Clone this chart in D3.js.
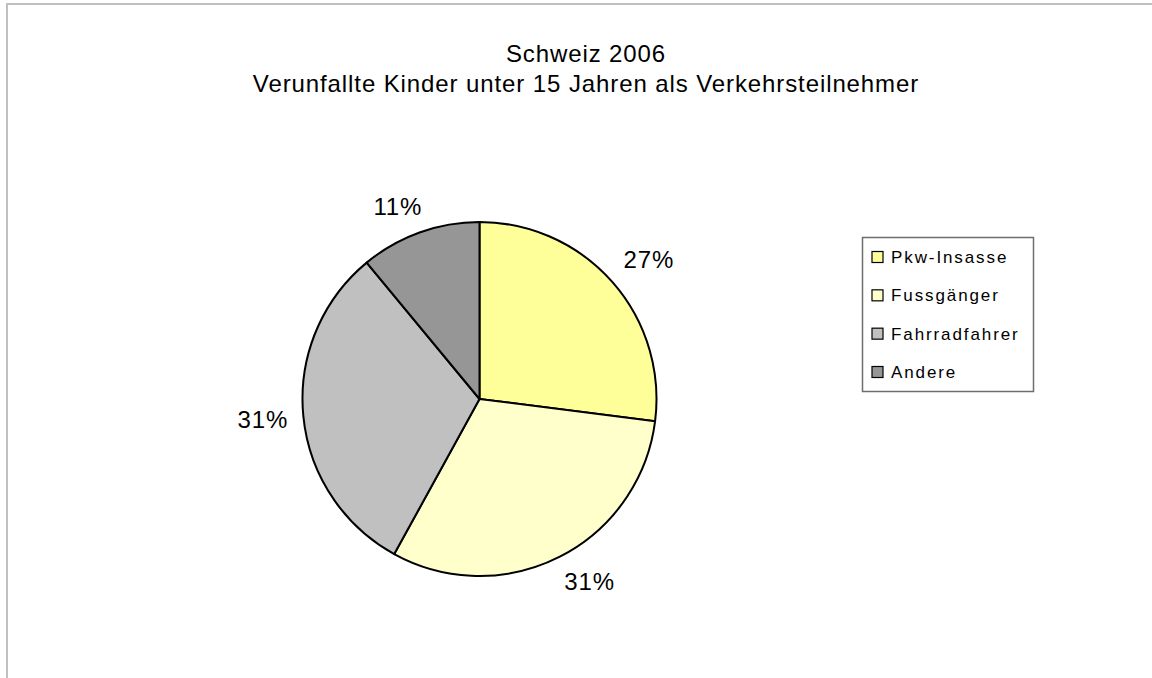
<!DOCTYPE html>
<html>
<head>
<meta charset="utf-8">
<script src="https://cdn.jsdelivr.net/npm/d3@7"></script>
<style>
  body { margin: 0; background: #fff; }
  svg { display: block; font-family: 'Liberation Sans', Arial, sans-serif; }
</style>
</head>
<body>
<svg width="1152" height="678"></svg>
<script>
const categories = ['Pkw-Insasse', 'Fussgänger', 'Fahrradfahrer', 'Andere']
const anteile = [27, 31, 31, 11]
const farben = ['#FFFF99', '#FFFFCC', '#C0C0C0', '#969696']
const titel = ['Schweiz 2006', 'Verunfallte Kinder unter 15 Jahren als Verkehrsteilnehmer']

const dados = categories.map((c, i) => ({ name: c, value: anteile[i], color: farben[i] }))

const svg = d3.select('svg')

/*rahmen*/
svg.append('path')
  .attr('d', 'M7,678 V4 H1152')
  .attr('fill', 'none')
  .attr('stroke', '#c0c0c0')
  .attr('stroke-width', 2)

/*titel*/
svg.append('g')
  .selectAll('text')
  .data(titel)
  .enter()
  .append('text')
  .attr('x', 586)
  .attr('y', (d, i) => 61.5 + i * 30.5)
  .attr('text-anchor', 'middle')
  .attr('font-size', 24)
  .attr('letter-spacing', 0.9)
  .attr('fill', '#000')
  .text(d => d)

const cx = 479.5, cy = 399, r = 177

const pie = d3.pie()
  .sort(null)
  .value(d => d.value)

const arc = d3.arc().innerRadius(0).outerRadius(r)

const chart = svg.append('g')
  .attr('transform', `translate(${cx}, ${cy})`)

const slices = pie(dados)

chart.selectAll('path')
  .data(slices)
  .enter()
  .append('path')
  .attr('d', arc)
  .attr('fill', d => d.data.color)
  .attr('stroke', '#000')
  .attr('stroke-width', 2)
  .attr('stroke-linejoin', 'round')

/*werte ausserhalb, box-ecke am radius*/
const labelR = 192
const clamp = v => Math.max(-1, Math.min(1, v))
chart.selectAll('.value')
  .data(slices)
  .enter()
  .append('text')
  .attr('class', 'value')
  .attr('text-anchor', 'middle')
  .attr('dy', '0.35em')
  .attr('font-size', 24)
  .attr('letter-spacing', 0.9)
  .text(d => `${d.data.value}%`)
  .each(function (d) {
    const a = (d.startAngle + d.endAngle) / 2
    const w = this.getComputedTextLength(), h = 24
    const x = labelR * Math.sin(a) + w / 2 * clamp(Math.sin(a) * 2)
    const y = -labelR * Math.cos(a) - h / 2 * clamp(Math.cos(a) * 2)
    d3.select(this).attr('x', x).attr('y', y)
  })

/*legende*/
const legend = svg.append('g')
  .attr('transform', 'translate(862, 237)')

legend.append('rect')
  .attr('x', 0.5)
  .attr('y', 0.5)
  .attr('width', 171)
  .attr('height', 154)
  .attr('fill', '#fff')
  .attr('stroke', '#6e6e6e')
  .attr('stroke-width', 1.5)

const rowScale = d3.scalePoint()
  .domain(categories)
  .range([20, 135])

const items = legend.selectAll('.item')
  .data(dados)
  .enter()
  .append('g')
  .attr('transform', d => `translate(10, ${rowScale(d.name)})`)

items.append('rect')
  .attr('x', 0)
  .attr('y', -5.5)
  .attr('width', 11)
  .attr('height', 11)
  .attr('fill', d => d.color)
  .attr('stroke', '#000')
  .attr('stroke-width', 1.2)

items.append('text')
  .attr('x', 19)
  .attr('y', 0)
  .attr('dy', '0.36em')
  .attr('font-size', 17)
  .attr('letter-spacing', 1.9)
  .text(d => d.name)
</script>
</body>
</html>
